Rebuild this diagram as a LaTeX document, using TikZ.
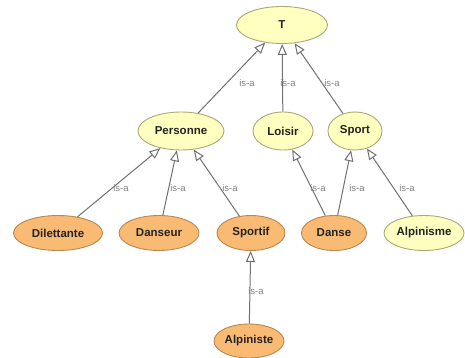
\documentclass[tikz,border=0pt]{standalone}
\usepackage{fontspec}
\setmainfont{Liberation Sans}
\usetikzlibrary{shapes.geometric,arrows.meta}
\definecolor{yfill}{HTML}{FFFFC0}
\definecolor{ydraw}{HTML}{A8A878}
\definecolor{ofill}{HTML}{F9BB74}
\definecolor{odraw}{HTML}{B88650}
\definecolor{edgec}{HTML}{707070}
\definecolor{lblc}{HTML}{808080}
\definecolor{txtc}{HTML}{222222}
\tikzset{
  concept/.style={ellipse, draw=ydraw, fill=yfill, line width=0.9pt, inner sep=0pt,
    font=\fontsize{11.5}{12}\selectfont\bfseries, text=txtc},
  instc/.style={concept, draw=odraw, fill=ofill},
  isa/.style={draw=edgec, line width=1pt, -{Triangle[open,length=11pt,width=9pt]}},
  lbl/.style={font=\fontsize{9.5}{10}\selectfont, text=lblc, inner sep=0pt}
}
\begin{document}
\begin{tikzpicture}[x=1pt,y=-1pt]
\useasboundingbox (0,0) rectangle (465,358);
\node[concept, minimum width=91, minimum height=37] (T) at (282,25) {T};
\node[concept, minimum width=86, minimum height=38] (Pers) at (181,131) {Personne};
\node[concept, minimum width=60, minimum height=38] (Lois) at (283,131) {Loisir};
\node[concept, minimum width=54, minimum height=38] (Sport) at (355,131) {Sport};
\node[instc, minimum width=89, minimum height=35] (Dil) at (58,233) {Dilettante};
\node[instc, minimum width=80, minimum height=35] (Dans) at (159,233) {Danseur};
\node[instc, minimum width=68, minimum height=35] (Sptf) at (251,233) {Sportif};
\node[instc, minimum width=65, minimum height=35] (Danse) at (334,233) {Danse};
\node[concept, minimum width=80, minimum height=35] (Alpm) at (424,233) {Alpinisme};
\node[instc, minimum width=70, minimum height=34] (Alpt) at (249,341) {Alpiniste};

\draw[isa] (Pers) -- (T);
\draw[isa] (Lois) -- (T);
\draw[isa] (Sport) -- (T);
\draw[isa] (Dil) -- (Pers);
\draw[isa] (Dans) -- (Pers);
\draw[isa] (Sptf) -- (Pers);
\draw[isa] (Danse) -- (Lois);
\draw[isa] (Danse) -- (Sport);
\draw[isa] (Alpm) -- (Sport);
\draw[isa] (Alpt) -- (Sptf);

\node[lbl] (l1) at (247,83) {is-a};
\node[lbl] (l2) at (288,83) {is-a};
\node[lbl] (l3) at (332,83) {is-a};
\node[lbl] (l4) at (121,188) {is-a};
\node[lbl] (l5) at (178,188) {is-a};
\node[lbl] (l6) at (230,188) {is-a};
\node[lbl] (l7) at (318,188) {is-a};
\node[lbl] (l8) at (357,188) {is-a};
\node[lbl] (l9) at (407,188) {is-a};
\node[lbl] (l10) at (256,291) {is-a};
\end{tikzpicture}
\end{document}
